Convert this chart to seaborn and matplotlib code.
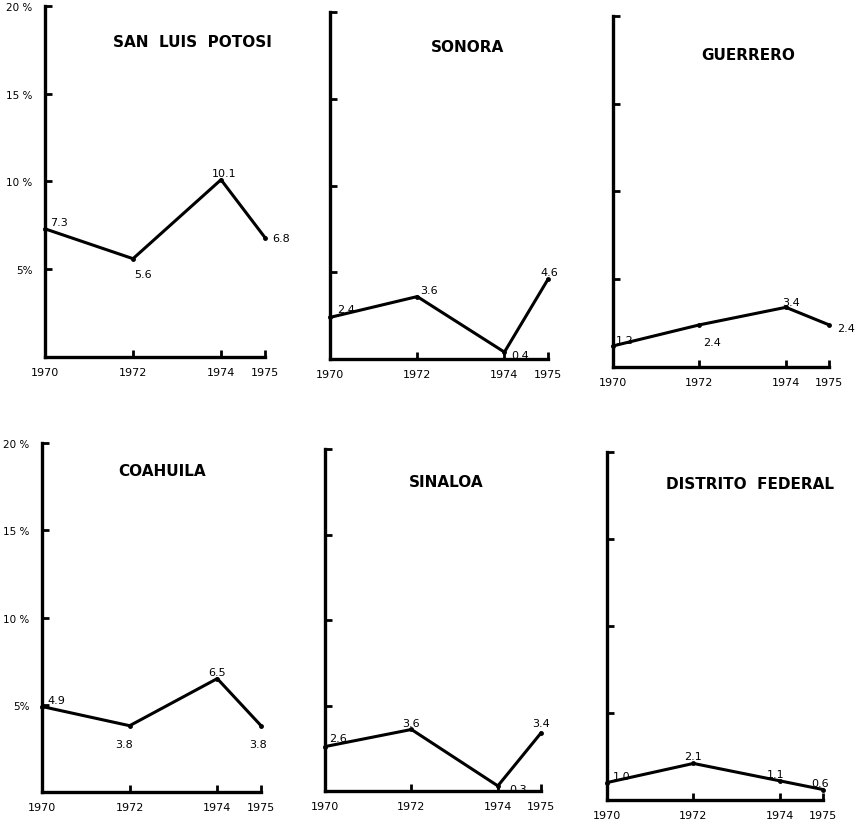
#!/usr/bin/env python3

import numpy as np
import pandas as pd
import seaborn as sns
from matplotlib import pyplot as plt

years = [1970, 1972, 1974, 1975]
states = ['SAN  LUIS  POTOSI', 'SONORA', 'GUERRERO',
          'COAHUILA', 'SINALOA', 'DISTRITO  FEDERAL']

san_luis = [7.3, 5.6, 10.1, 6.8]
sonora = [2.4, 3.6, 0.4, 4.6]
guerrero = [1.2, 2.4, 3.4, 2.4]
coahuila = [4.9, 3.8, 6.5, 3.8]
sinaloa = [2.6, 3.6, 0.3, 3.4]
distrito = [1.0, 2.1, 1.1, 0.6]

y_ticks = [5, 10, 15, 20]
y_labels = ['5%', '10 %', '15 %', '20 %']

series = [san_luis, sonora, guerrero, coahuila, sinaloa, distrito]
rows = []
for st, vals in zip(states, series):
    for yr, v in zip(years, vals):
        rows.append({'state': st, 'year': yr, 'pct': v})
data_ = pd.DataFrame(rows)

# axes boxes in figure fraction (left, bottom, width, height)
boxes = [
    [0.0523, 0.5682, 0.2555, 0.4234],
    [0.3833, 0.5657, 0.2532, 0.4186],
    [0.7120, 0.5561, 0.2509, 0.4234],
    [0.0488, 0.0434, 0.2544, 0.4210],
    [0.3775, 0.0446, 0.2509, 0.4125],
    [0.7050, 0.0338, 0.2509, 0.4198],
]
title_pos = [(0.67, 0.90), (0.63, 0.90), (0.625, 0.89),
             (0.55, 0.92), (0.56, 0.906), (0.66, 0.91)]
# label offsets in points (dx, dy, ha)
offsets = [
    [(4, 5, 'left'), (1, -11, 'left'), (2, 5, 'center'), (5, 0, 'left')],
    [(5, 6, 'left'), (2, 5, 'left'), (5, -2, 'left'), (1, 5, 'center')],
    [(2, 4, 'left'), (9, -12, 'center'), (4, 4, 'center'), (6, -2, 'left')],
    [(4, 5, 'left'), (-4, -13, 'center'), (0, 5, 'center'), (-2, -13, 'center')],
    [(3, 6, 'left'), (0, 5, 'center'), (8, -2, 'left'), (0, 7, 'center')],
    [(4, 5, 'left'), (0, 5, 'center'), (-3, 5, 'center'), (-2, 5, 'center')],
]

sns.set_style("white")
plt.rcParams['font.family'] = ['DejaVu Sans']
plt.rcParams['text.color'] = 'black'
plt.rcParams['xtick.color'] = 'black'
plt.rcParams['ytick.color'] = 'black'

fig = plt.figure(figsize=(8.61, 8.29), dpi=100)

for i, st in enumerate(states):
    ax = fig.add_axes(boxes[i])
    sub = data_[data_['state'] == st]
    sns.lineplot(x='year', y='pct', data=sub, ax=ax, color='black',
                 linewidth=2.2, marker='o', markersize=3.5, markeredgewidth=0,
                 clip_on=False)
    ax.set_xlim(1970, 1975)
    ax.set_ylim(0, 20)
    ax.set_xlabel('')
    ax.set_ylabel('')
    sns.despine(ax=ax)
    for side in ['left', 'bottom']:
        ax.spines[side].set_linewidth(2.4)
        ax.spines[side].set_color('black')
    ax.set_xticks(years)
    ax.set_xticklabels([str(y) for y in years], fontsize=8)
    ax.set_yticks(y_ticks)
    if i % 3 == 0:
        ax.set_yticklabels(y_labels, fontsize=7.5)
    else:
        ax.set_yticklabels([])
    ax.tick_params(left=True, bottom=True, direction='in', length=5,
                   width=2, color='black')
    ax.tick_params(axis='x', pad=7)
    ax.tick_params(axis='y', pad=9)
    ax.text(title_pos[i][0], title_pos[i][1], st, transform=ax.transAxes,
            ha='center', va='center', fontsize=11, fontweight='bold')
    for (yr, v), (dx, dy, ha) in zip(zip(years, series[i]), offsets[i]):
        ax.annotate(f'{v:.1f}', (yr, v), xytext=(dx, dy),
                    textcoords='offset points', ha=ha, va='center', fontsize=8)

plt.savefig('out.png', dpi=100)
